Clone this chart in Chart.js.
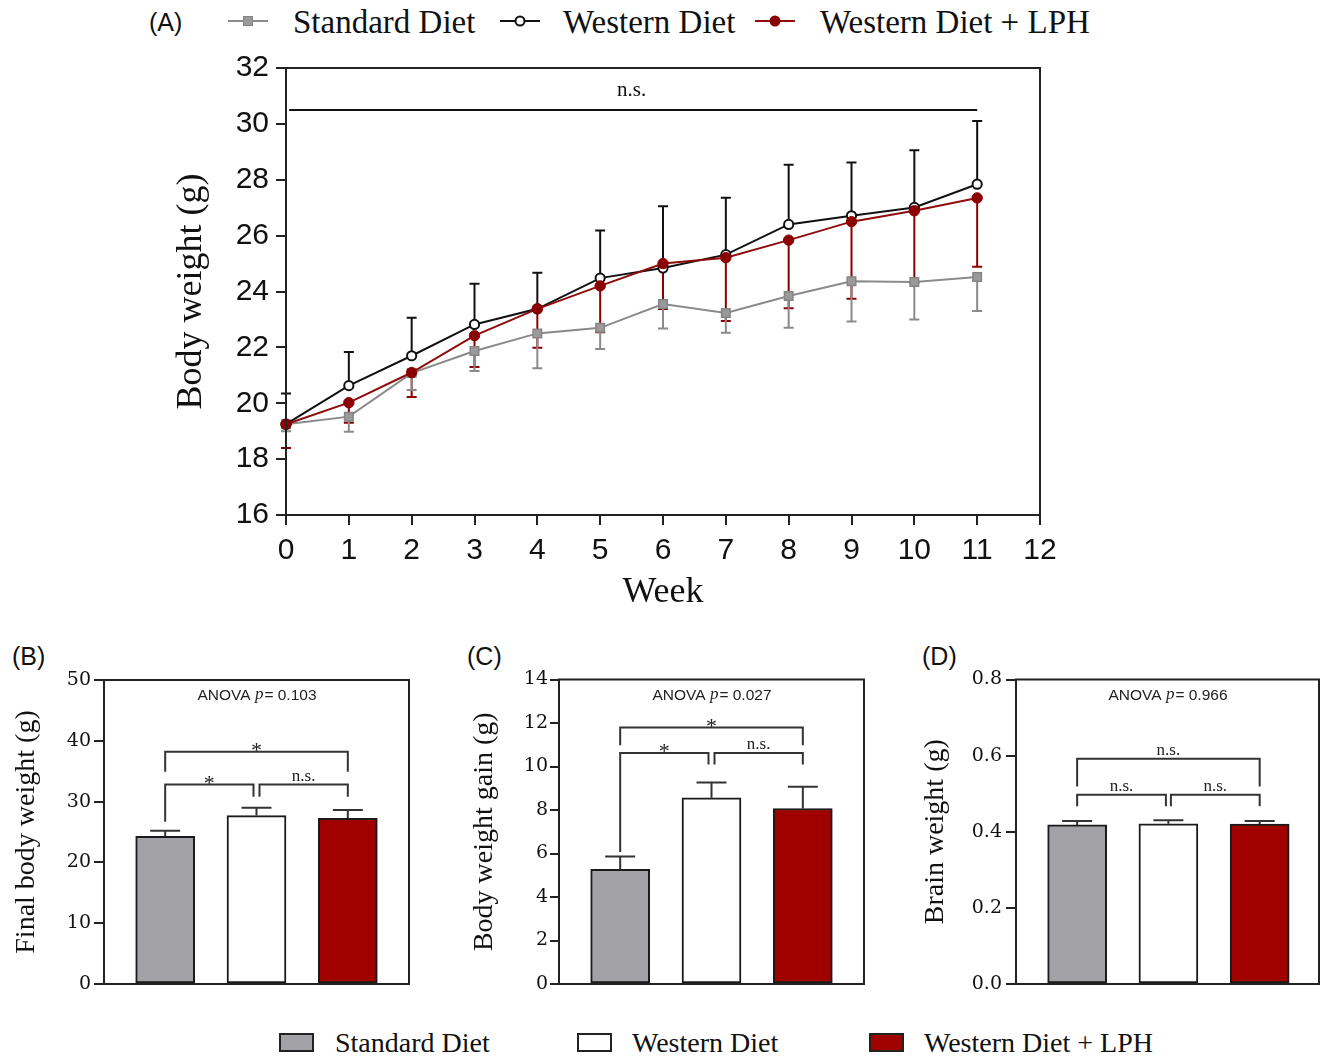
<!DOCTYPE html>
<html><head><meta charset="utf-8">
<script src="https://cdn.jsdelivr.net/npm/chart.js@4/dist/chart.umd.min.js"></script>
<style>
html,body{margin:0;padding:0;background:#fff;}
body{width:1325px;height:1056px;position:relative;overflow:hidden;}
.cv{position:absolute;}
.plabel{position:absolute;font-family:"Liberation Sans",Arial,sans-serif;font-size:25px;color:#111;line-height:1;transform:translateY(-50%);}
.ltxt{position:absolute;font-family:"Liberation Serif","Times New Roman",serif;color:#111;line-height:1;transform:translateY(-50%);white-space:nowrap;}
.lline{position:absolute;height:2px;transform:translateY(-50%);}
.lmark{position:absolute;transform:translate(-50%,-50%);box-sizing:border-box;}
.lbox{position:absolute;box-sizing:border-box;border:2px solid #222;}
</style>
</head><body>
<div class="plabel" style="left:149px;top:22px;">(A)</div>
<div class="plabel" style="left:12px;top:656px;">(B)</div>
<div class="plabel" style="left:467px;top:656px;">(C)</div>
<div class="plabel" style="left:922px;top:656px;">(D)</div>

<div class="lline" style="left:228px;top:21px;width:40px;background:#8a8a8a;"></div>
<div class="lmark" style="left:248px;top:21px;width:10px;height:10px;background:#9a9a9a;border:1.5px solid #858585;"></div>
<div class="ltxt" id="lt1" style="left:293px;top:22px;font-size:33px;"></div>
<div class="lline" style="left:500px;top:21px;width:40px;background:#111;"></div>
<div class="lmark" style="left:520px;top:21px;width:11px;height:11px;background:#fff;border:2px solid #111;border-radius:50%;"></div>
<div class="ltxt" id="lt2" style="left:563px;top:22px;font-size:33px;"></div>
<div class="lline" style="left:755px;top:21px;width:40px;background:#8e0c0c;"></div>
<div class="lmark" style="left:775px;top:21px;width:11px;height:11px;background:#8b0000;border-radius:50%;"></div>
<div class="ltxt" id="lt3" style="left:820px;top:22px;font-size:33px;"></div>

<canvas id="cA" class="cv" style="left:150px;top:48px;" width="930" height="570"></canvas>
<canvas id="cB" class="cv" style="left:0px;top:660px;" width="420" height="330"></canvas>
<canvas id="cC" class="cv" style="left:460px;top:660px;" width="420" height="330"></canvas>
<canvas id="cD" class="cv" style="left:910px;top:660px;" width="415" height="330"></canvas>

<div class="lbox" style="left:279px;top:1033px;width:35px;height:19px;background:#a2a2a6;"></div>
<div class="ltxt" id="lb1" style="left:335px;top:1043px;font-size:28px;"></div>
<div class="lbox" style="left:577px;top:1033px;width:35px;height:19px;background:#fff;"></div>
<div class="ltxt" id="lb2" style="left:632px;top:1043px;font-size:28px;"></div>
<div class="lbox" style="left:869px;top:1033px;width:35px;height:19px;background:#a00000;"></div>
<div class="ltxt" id="lb3" style="left:924px;top:1043px;font-size:28px;"></div>

<script>
// ---------- DATA ----------
const groups = ['Standard Diet', 'Western Diet', 'Western Diet + LPH'];
const weeks = [0, 1, 2, 3, 4, 5, 6, 7, 8, 9, 10, 11];
const sdMean  = [19.25, 19.52, 21.08, 21.87, 22.50, 22.70, 23.55, 23.23, 23.84, 24.37, 24.34, 24.52];
const sdErr   = [0.25, 0.54, 0.61, 0.72, 1.25, 0.76, 0.87, 0.71, 1.14, 1.44, 1.34, 1.22];
const wdMean  = [19.25, 20.63, 21.70, 22.82, 23.38, 24.48, 24.84, 25.32, 26.40, 26.71, 27.01, 27.84];
const wdErr   = [1.10, 1.20, 1.36, 1.46, 1.29, 1.70, 2.21, 2.04, 2.14, 1.91, 2.05, 2.26];
const lphMean = [19.25, 20.02, 21.10, 22.42, 23.38, 24.20, 25.00, 25.21, 25.84, 26.50, 26.89, 27.35];
const lphErr  = [0.85, 0.72, 0.88, 1.12, 1.39, 1.66, 1.63, 2.27, 2.44, 2.76, 2.59, 2.46];

const finalWeight    = [24.3, 27.7, 27.25];
const finalWeightErr = [0.9, 1.3, 1.35];
const weightGain     = [5.27, 8.56, 8.07];
const weightGainErr  = [0.59, 0.71, 1.00];
const brainWeight    = [0.418, 0.421, 0.420];
const brainWeightErr = [0.010, 0.009, 0.008];
const anovaP = ['0.103', '0.027', '0.966'];

// legends text
document.getElementById('lt1').textContent = groups[0];
document.getElementById('lt2').textContent = groups[1];
document.getElementById('lt3').textContent = groups[2];
document.getElementById('lb1').textContent = groups[0];
document.getElementById('lb2').textContent = groups[1];
document.getElementById('lb3').textContent = groups[2];

const AX = '#222';
const SERIF = '"Liberation Serif","Times New Roman",serif';
const SANS = '"Liberation Sans",Arial,sans-serif';

// ---------- PLUGINS ----------
const errBars = {
  id: 'errBars',
  beforeDatasetsDraw(chart) {
    if (chart.config.type !== 'line') return;
    drawErr(chart);
  },
  afterDatasetsDraw(chart) {
    if (chart.config.type !== 'bar') return;
    drawErr(chart);
  }
};
function drawErr(chart) {
  const ctx = chart.ctx, ys = chart.scales.y;
  chart.data.datasets.forEach((ds, di) => {
    if (!ds.errors) return;
    const meta = chart.getDatasetMeta(di);
    ctx.save();
    ctx.strokeStyle = ds.errColor; ctx.lineWidth = 2;
    meta.data.forEach((el, i) => {
      const v = ds.data[i].y, e = ds.errors[i];
      const y2 = ys.getPixelForValue(v + ds.errDir * e);
      ctx.beginPath();
      ctx.moveTo(el.x, el.y); ctx.lineTo(el.x, y2);
      ctx.moveTo(el.x - ds.capHalf, y2); ctx.lineTo(el.x + ds.capHalf, y2);
      ctx.stroke();
    });
    ctx.restore();
  });
}

const frame = {
  id: 'frame',
  afterDraw(chart) {
    const {ctx, chartArea: a} = chart;
    ctx.save();
    ctx.strokeStyle = AX; ctx.lineWidth = 2;
    ctx.strokeRect(a.left, a.top, a.right - a.left, a.bottom - a.top);
    ctx.restore();
  }
};

const sig = {
  id: 'sig',
  afterDraw(chart, args, opts) {
    if (!opts) return;
    const ctx = chart.ctx, xs = chart.scales.x, ys = chart.scales.y, a = chart.chartArea;
    ctx.save();
    ctx.strokeStyle = '#333'; ctx.lineWidth = 2; ctx.fillStyle = '#222';
    (opts.items || []).forEach(it => {
      const xa = xs.getPixelForValue(it.a) + (it.da || 0);
      const xb = xs.getPixelForValue(it.b) + (it.db || 0);
      const y = ys.getPixelForValue(it.y);
      ctx.beginPath();
      ctx.moveTo(xa, ys.getPixelForValue(it.ya));
      ctx.lineTo(xa, y); ctx.lineTo(xb, y);
      ctx.lineTo(xb, ys.getPixelForValue(it.yb));
      ctx.stroke();
      ctx.textAlign = 'center'; ctx.textBaseline = 'alphabetic';
      if (it.label === '*') {
        ctx.font = '22px ' + SERIF;
        ctx.fillText('*', (xa + xb) / 2, y + 5);
      } else {
        ctx.font = '17px ' + SERIF;
        ctx.fillText(it.label, (xa + xb) / 2, y - 4);
      }
    });
    if (opts.anova) {
      const cx = (a.left + a.right) / 2, cy = a.top + 16;
      const f1 = '15.5px ' + SANS, f2 = 'italic 17px ' + SERIF;
      const t1 = 'ANOVA ', t2 = 'p', t3 = '= ' + opts.anova;
      ctx.font = f1; const w1 = ctx.measureText(t1).width, w3 = ctx.measureText(t3).width;
      ctx.font = f2; const w2 = ctx.measureText(t2).width;
      let x = cx - (w1 + w2 + w3) / 2;
      ctx.textAlign = 'left'; ctx.textBaseline = 'middle';
      ctx.font = f1; ctx.fillText(t1, x, cy); x += w1;
      ctx.font = f2; ctx.fillText(t2, x, cy - 1); x += w2 + 1;
      ctx.font = f1; ctx.fillText(t3, x, cy);
    }
    if (opts.lineNS) {
      const L = opts.lineNS;
      const y = ys.getPixelForValue(L.y);
      ctx.beginPath();
      ctx.moveTo(xs.getPixelForValue(L.from), y); ctx.lineTo(xs.getPixelForValue(L.to), y);
      ctx.strokeStyle = '#111'; ctx.stroke();
      ctx.font = '21px ' + SERIF; ctx.textAlign = 'center'; ctx.textBaseline = 'alphabetic';
      ctx.fillStyle = '#111';
      ctx.fillText(L.label, xs.getPixelForValue(L.at), y - 14);
    }
    ctx.restore();
  }
};

// ---------- CHART A ----------
function pts(xv, yv) { return xv.map((x, i) => ({x: x, y: yv[i]})); }

new Chart(document.getElementById('cA'), {
  type: 'line',
  data: {
    datasets: [
      {label: groups[2], data: pts(weeks, lphMean), order: 1,
       borderColor: '#8e0c0c', borderWidth: 2, pointStyle: 'circle', pointRadius: 5.2,
       pointBackgroundColor: '#8b0000', pointBorderColor: '#8b0000', pointBorderWidth: 1,
       errors: lphErr, errDir: -1, errColor: '#8b0000', capHalf: 5},
      {label: groups[1], data: pts(weeks, wdMean), order: 2,
       borderColor: '#111', borderWidth: 2, pointStyle: 'circle', pointRadius: 4.6,
       pointBackgroundColor: '#fff', pointBorderColor: '#111', pointBorderWidth: 2,
       errors: wdErr, errDir: 1, errColor: '#111', capHalf: 5},
      {label: groups[0], data: pts(weeks, sdMean), order: 3,
       borderColor: '#8a8a8a', borderWidth: 2, pointStyle: 'rect', pointRadius: 6,
       pointBackgroundColor: '#9a9a9a', pointBorderColor: '#858585', pointBorderWidth: 1.5,
       errors: sdErr, errDir: -1, errColor: '#8a8a8a', capHalf: 5}
    ].map(d => Object.assign(d, {tension: 0, clip: false, fill: false}))
  },
  options: {
    responsive: false, animation: false, events: [],
    layout: {padding: {top: 20, right: 40, left: 0, bottom: 0}},
    plugins: {legend: {display: false}, tooltip: {enabled: false},
      sig: {lineNS: {from: 0.05, to: 11, y: 30.5, at: 5.5, label: 'n.s.'}}},
    scales: {
      x: {type: 'linear', min: 0, max: 12,
        ticks: {stepSize: 1, color: '#111', font: {family: SANS, size: 30}, padding: 8, maxRotation: 0},
        grid: {drawOnChartArea: false, drawTicks: true, tickLength: 10, color: AX, lineWidth: 2},
        border: {display: true, color: AX, width: 2},
        title: {display: true, text: 'Week', color: '#111', font: {family: SERIF, size: 36}, padding: {top: 0, bottom: 4}},
        afterFit: s => { s.height = 103; s.paddingLeft = 0; s.paddingRight = 0; }},
      y: {type: 'linear', min: 16, max: 32,
        ticks: {stepSize: 2, color: '#111', font: {family: SANS, size: 30}, padding: 7},
        grid: {drawOnChartArea: false, drawTicks: true, tickLength: 10, color: AX, lineWidth: 2},
        border: {display: true, color: AX, width: 2},
        title: {display: true, text: 'Body weight (g)', color: '#111', font: {family: SERIF, size: 36}, padding: {top: 20, bottom: 0}},
        afterFit: s => { s.width = 136; s.paddingTop = 0; s.paddingBottom = 0; }}
    }
  },
  plugins: [errBars, frame, sig]
});

// ---------- BAR CHARTS ----------
const barFill = ['#a2a2a6', '#ffffff', '#a00000'];
function barChart(id, vals, errs, cfg) {
  new Chart(document.getElementById(id), {
    type: 'bar',
    data: {
      datasets: [{
        data: vals.map((v, i) => ({x: i, y: v})),
        backgroundColor: barFill, borderColor: '#1a1a1a', borderWidth: 2, borderSkipped: false,
        barThickness: 59,
        errors: errs, errDir: 1, errColor: '#333', capHalf: 15
      }]
    },
    options: {
      responsive: false, animation: false, events: [],
      layout: {padding: {top: cfg.padTop, right: cfg.padRight, left: 0, bottom: 6}},
      plugins: {legend: {display: false}, tooltip: {enabled: false},
        sig: {items: cfg.brackets, anova: cfg.p}},
      scales: {
        x: {type: 'linear', display: false, min: -0.67, max: cfg.xmax, offset: false},
        y: {type: 'linear', min: 0, max: cfg.ymax,
          ticks: {stepSize: cfg.step, color: '#111', font: {family: '"DejaVu Serif",serif', size: 19}, padding: cfg.tickPad,
                  callback: cfg.fmt},
          grid: {drawOnChartArea: false, drawTicks: true, tickLength: cfg.tickLen, color: AX, lineWidth: 2},
          border: {display: true, color: AX, width: 2},
          title: {display: true, text: cfg.title, color: '#111', font: {family: SERIF, size: 28}, padding: {top: cfg.titlePad, bottom: 0}},
          afterFit: s => { s.width = cfg.yWidth; s.paddingTop = 0; s.paddingBottom = 0; }}
      }
    },
    plugins: [errBars, frame, sig]
  });
}

barChart('cB', finalWeight, finalWeightErr, {
  padTop: 20, padRight: 11, xmax: 2.67, ymax: 50, step: 10, tickPad: 3, tickLen: 10,
  title: 'Final body weight (g)', titlePad: 10, yWidth: 104, p: anovaP[0],
  fmt: v => v.toString(),
  brackets: [
    {a: 0, b: 2, y: 38.2, ya: 34.9, yb: 34.9, label: '*'},
    {a: 0, b: 1, y: 32.8, ya: 26.7, yb: 30.8, db: -3, label: '*'},
    {a: 1, b: 2, y: 32.8, ya: 30.8, yb: 30.8, da: 3, label: 'n.s.'}
  ]
});
barChart('cC', weightGain, weightGainErr, {
  padTop: 19.5, padRight: 16, xmax: 2.67, ymax: 14, step: 2, tickPad: 2, tickLen: 9,
  title: 'Body weight gain (g)', titlePad: 7.5, yWidth: 99, p: anovaP[1],
  fmt: v => v.toString(),
  brackets: [
    {a: 0, b: 2, y: 11.79, ya: 10.98, yb: 10.98, label: '*'},
    {a: 0, b: 1, y: 10.62, ya: 6.07, yb: 10.09, db: -3, label: '*'},
    {a: 1, b: 2, y: 10.62, ya: 10.09, yb: 10.09, da: 3, label: 'n.s.'}
  ]
});
barChart('cD', brainWeight, brainWeightErr, {
  padTop: 19.5, padRight: 6, xmax: 2.65, ymax: 0.8, step: 0.2, tickPad: 4, tickLen: 10,
  title: 'Brain weight (g)', titlePad: 8.5, yWidth: 106, p: anovaP[2],
  fmt: v => v.toFixed(1),
  brackets: [
    {a: 0, b: 2, y: 0.592, ya: 0.519, yb: 0.519, label: 'n.s.'},
    {a: 0, b: 1, y: 0.497, ya: 0.467, yb: 0.467, db: -2.5, label: 'n.s.'},
    {a: 1, b: 2, y: 0.497, ya: 0.467, yb: 0.467, da: 2.5, label: 'n.s.'}
  ]
});
</script>
</body></html>
